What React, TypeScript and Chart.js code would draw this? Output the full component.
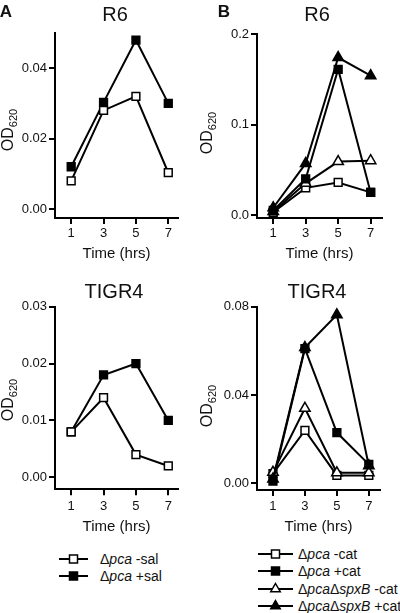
import React, { useEffect, useRef } from "react";
import { Chart, registerables } from "chart.js";

Chart.register(...registerables);

const FONT = "'Liberation Sans', Arial, Helvetica, sans-serif";

// ---- shared x axis ----
const timeHours = [1, 3, 5, 7];
const xTickLabels = ["1", "3", "5", "7"];

// ---- Panel A, R6 ----
const aR6MinusSal = [0.008, 0.028, 0.032, 0.0103];
const aR6PlusSal = [0.012, 0.0303, 0.048, 0.030];
const aR6YTicks = [0, 0.02, 0.04];
const aR6YTickLabels = ["0.00", "0.02", "0.04"];

// ---- Panel A, TIGR4 ----
const aTigrMinusSal = [0.008, 0.014, 0.004, 0.002];
const aTigrPlusSal = [0.008, 0.018, 0.020, 0.010];
const aTigrYTicks = [0, 0.01, 0.02, 0.03];
const aTigrYTickLabels = ["0.00", "0.01", "0.02", "0.03"];

// ---- Panel B, R6 ----
const bR6PcaMinusCat = [0.003, 0.030, 0.036, 0.025];
const bR6PcaPlusCat = [0.005, 0.040, 0.161, 0.025];
const bR6SpxMinusCat = [0.004, 0.035, 0.059, 0.060];
const bR6SpxPlusCat = [0.008, 0.057, 0.174, 0.154];
const bR6YTicks = [0, 0.1, 0.2];
const bR6YTickLabels = ["0.0", "0.1", "0.2"];

// ---- Panel B, TIGR4 ----
const bTigrPcaMinusCat = [0.0044, 0.024, 0.0036, 0.0036];
const bTigrPcaPlusCat = [0.001, 0.061, 0.023, 0.0086];
const bTigrSpxMinusCat = [0.005, 0.034, 0.0048, 0.0048];
const bTigrSpxPlusCat = [0.002, 0.0615, 0.0763, 0.008];
const bTigrYTicks = [0, 0.04, 0.08];
const bTigrYTickLabels = ["0.00", "0.04", "0.08"];

type Shape = "rect" | "triangle";
interface Series {
  label: string;
  values: number[];
  shape: Shape;
  filled: boolean;
}
interface PanelSpec {
  left: number;
  top: number;
  width: number;
  height: number;
  area: { left: number; top: number; right: number; bottom: number };
  xMax: number;
  yMin: number;
  yMax: number;
  yTicks: number[];
  yTickLabels: string[];
  labelPad: number;
  titlePad: number;
  series: Series[];
}

function buildConfig(p: PanelSpec): any {
  return {
    type: "line",
    data: {
      datasets: p.series.map((s) => ({
        label: s.label,
        data: timeHours.map((t, i) => ({ x: t, y: s.values[i] })),
        borderColor: "#000",
        borderWidth: 2,
        pointStyle: s.shape,
        pointRadius: s.shape === "rect" ? 5.5 : 6,
        pointBackgroundColor: s.filled ? "#000" : "#fff",
        pointBorderColor: "#000",
        pointBorderWidth: 1.5,
        tension: 0,
        fill: false,
        clip: false,
      })),
    },
    options: {
      responsive: false,
      animation: false,
      events: [],
      layout: {
        padding: { left: 0, top: p.area.top, right: p.width - p.area.right, bottom: 0 },
      },
      plugins: {
        legend: { display: false },
        tooltip: { enabled: false },
        title: { display: false },
      },
      scales: {
        x: {
          type: "linear",
          min: 0,
          max: p.xMax,
          afterFit: (s: any) => {
            s.height = p.height - p.area.bottom;
          },
          afterBuildTicks: (s: any) => {
            s.ticks = timeHours.map((v) => ({ value: v }));
          },
          ticks: {
            autoSkip: false,
            maxRotation: 0,
            padding: p.labelPad,
            color: "#111",
            font: { size: 13, family: FONT },
            callback: (v: any) => {
              const i = timeHours.indexOf(Number(v));
              return i >= 0 ? xTickLabels[i] : "";
            },
          },
          grid: {
            display: true,
            drawOnChartArea: false,
            drawTicks: true,
            tickLength: 6,
            tickWidth: 2,
            tickColor: "#000",
            lineWidth: 2,
            color: "rgba(0,0,0,0)",
          },
          border: { display: true, color: "#000", width: 2 },
          title: {
            display: true,
            text: "Time (hrs)",
            color: "#111",
            font: { size: 15, family: FONT },
            padding: { top: 0, bottom: p.titlePad },
          },
        },
        y: {
          type: "linear",
          min: p.yMin,
          max: p.yMax,
          afterFit: (s: any) => {
            s.width = p.area.left;
          },
          afterBuildTicks: (s: any) => {
            s.ticks = p.yTicks.map((v) => ({ value: v }));
          },
          ticks: {
            autoSkip: false,
            padding: 2,
            color: "#111",
            font: { size: 13, family: FONT },
            callback: (v: any) => {
              const i = p.yTicks.findIndex((t) => Math.abs(t - Number(v)) < 1e-9);
              return i >= 0 ? p.yTickLabels[i] : "";
            },
          },
          grid: {
            display: true,
            drawOnChartArea: false,
            drawTicks: true,
            tickLength: 6,
            tickWidth: 2,
            tickColor: "#000",
            lineWidth: 2,
            color: "rgba(0,0,0,0)",
          },
          border: { display: true, color: "#000", width: 2 },
        },
      },
    },
  };
}

function Panel({ spec }: { spec: PanelSpec }) {
  const ref = useRef<HTMLCanvasElement | null>(null);
  useEffect(() => {
    if (!ref.current) return;
    const chart = new Chart(ref.current, buildConfig(spec));
    return () => chart.destroy();
  }, []);
  return (
    <canvas
      ref={ref}
      width={spec.width}
      height={spec.height}
      style={{ position: "absolute", left: spec.left, top: spec.top, width: spec.width, height: spec.height }}
    />
  );
}

const panels: PanelSpec[] = [
  {
    left: 0, top: 0, width: 200, height: 268,
    area: { left: 55, top: 33, right: 178, bottom: 218 },
    xMax: 7.6, yMin: -0.00256, yMax: 0.05,
    yTicks: aR6YTicks, yTickLabels: aR6YTickLabels,
    labelPad: 1.5, titlePad: 5.5,
    series: [
      { label: "Δpca -sal", values: aR6MinusSal, shape: "rect", filled: false },
      { label: "Δpca +sal", values: aR6PlusSal, shape: "rect", filled: true },
    ],
  },
  {
    left: 0, top: 268, width: 200, height: 272,
    area: { left: 55, top: 38.7, right: 178, bottom: 221.3 },
    xMax: 7.6, yMin: -0.0021, yMax: 0.03,
    yTicks: aTigrYTicks, yTickLabels: aTigrYTickLabels,
    labelPad: 3, titlePad: 4,
    series: [
      { label: "Δpca -sal", values: aTigrMinusSal, shape: "rect", filled: false },
      { label: "Δpca +sal", values: aTigrPlusSal, shape: "rect", filled: true },
    ],
  },
  {
    left: 200, top: 0, width: 200, height: 268,
    area: { left: 57, top: 34, right: 182, bottom: 218 },
    xMax: 7.7, yMin: -0.0033, yMax: 0.2,
    yTicks: bR6YTicks, yTickLabels: bR6YTickLabels,
    labelPad: 1.5, titlePad: 5.5,
    series: [
      { label: "Δpca +cat", values: bR6PcaPlusCat, shape: "rect", filled: true },
      { label: "ΔpcaΔspxB +cat", values: bR6SpxPlusCat, shape: "triangle", filled: true },
      { label: "ΔpcaΔspxB -cat", values: bR6SpxMinusCat, shape: "triangle", filled: false },
      { label: "Δpca -cat", values: bR6PcaMinusCat, shape: "rect", filled: false },
    ],
  },
  {
    left: 200, top: 268, width: 200, height: 272,
    area: { left: 57, top: 38.7, right: 180, bottom: 222 },
    xMax: 7.7, yMin: -0.003, yMax: 0.08,
    yTicks: bTigrYTicks, yTickLabels: bTigrYTickLabels,
    labelPad: 2.7, titlePad: 4,
    series: [
      { label: "Δpca +cat", values: bTigrPcaPlusCat, shape: "rect", filled: true },
      { label: "ΔpcaΔspxB +cat", values: bTigrSpxPlusCat, shape: "triangle", filled: true },
      { label: "ΔpcaΔspxB -cat", values: bTigrSpxMinusCat, shape: "triangle", filled: false },
      { label: "Δpca -cat", values: bTigrPcaMinusCat, shape: "rect", filled: false },
    ],
  },
];

function Label({ x, y, size, bold, children }: any) {
  return (
    <div
      style={{
        position: "absolute",
        left: x,
        top: y,
        transform: "translate(-50%, -50%)",
        fontFamily: FONT,
        fontSize: size,
        fontWeight: bold ? "bold" : "normal",
        lineHeight: 1,
        whiteSpace: "nowrap",
        color: "#111",
      }}
    >
      {children}
    </div>
  );
}

function YLabel({ x, y }: { x: number; y: number }) {
  return (
    <div
      style={{
        position: "absolute",
        left: x,
        top: y,
        transform: "translate(-50%, -50%) rotate(-90deg)",
        fontFamily: FONT,
        fontSize: 16,
        lineHeight: 1,
        whiteSpace: "nowrap",
        color: "#111",
      }}
    >
      OD<span style={{ fontSize: 11, position: "relative", top: 4 }}>620</span>
    </div>
  );
}

function Marker({ shape, filled, cx, cy }: { shape: Shape; filled: boolean; cx: number; cy: number }) {
  const fill = filled ? "#000" : "#fff";
  if (shape === "rect") {
    return <rect x={cx - 4} y={cy - 4} width={8} height={8} fill={fill} stroke="#000" strokeWidth={1.5} />;
  }
  const r = 5.5;
  const pts = [
    [cx, cy - r],
    [cx + r * 0.866, cy + r * 0.5],
    [cx - r * 0.866, cy + r * 0.5],
  ]
    .map((q) => q.join(","))
    .join(" ");
  return <polygon points={pts} fill={fill} stroke="#000" strokeWidth={1.5} />;
}

function LegendRow({ x, lineLen, textX, y, shape, filled, children }: any) {
  return (
    <>
      <svg
        width={lineLen}
        height={16}
        style={{ position: "absolute", left: x, top: y - 8 }}
      >
        <line x1={0} y1={8} x2={lineLen} y2={8} stroke="#000" strokeWidth={2} />
        <Marker shape={shape} filled={filled} cx={lineLen / 2} cy={8} />
      </svg>
      <div
        style={{
          position: "absolute",
          left: textX,
          top: y,
          transform: "translateY(-50%)",
          fontFamily: FONT,
          fontSize: 14,
          lineHeight: 1,
          whiteSpace: "nowrap",
          color: "#111",
        }}
      >
        {children}
      </div>
    </>
  );
}

export default function App() {
  return (
    <div style={{ position: "absolute", left: 0, top: 0, width: 400, height: 613, background: "#fff", overflow: "hidden" }}>
      {panels.map((p, i) => (
        <Panel key={i} spec={p} />
      ))}
      <Label x={6} y={11} size={17} bold>A</Label>
      <Label x={224} y={11} size={17} bold>B</Label>
      <Label x={115} y={14} size={20}>R6</Label>
      <Label x={317} y={14} size={20}>R6</Label>
      <Label x={114} y={291} size={20}>TIGR4</Label>
      <Label x={317} y={291} size={20}>TIGR4</Label>
      <YLabel x={8} y={130} />
      <YLabel x={207} y={133} />
      <YLabel x={8} y={400} />
      <YLabel x={207} y={406} />

      <LegendRow x={59} lineLen={29} textX={100} y={559} shape="rect" filled={false}>
        Δ<i>pca</i> -sal
      </LegendRow>
      <LegendRow x={59} lineLen={29} textX={100} y={576} shape="rect" filled={true}>
        Δ<i>pca</i> +sal
      </LegendRow>

      <LegendRow x={258} lineLen={35} textX={298} y={554} shape="rect" filled={false}>
        Δ<i>pca</i> -cat
      </LegendRow>
      <LegendRow x={258} lineLen={35} textX={298} y={571} shape="rect" filled={true}>
        Δ<i>pca</i> +cat
      </LegendRow>
      <LegendRow x={258} lineLen={35} textX={298} y={589} shape="triangle" filled={false}>
        Δ<i>pca</i>Δ<i>spxB</i> -cat
      </LegendRow>
      <LegendRow x={258} lineLen={35} textX={298} y={606} shape="triangle" filled={true}>
        Δ<i>pca</i>Δ<i>spxB</i> +cat
      </LegendRow>
    </div>
  );
}
